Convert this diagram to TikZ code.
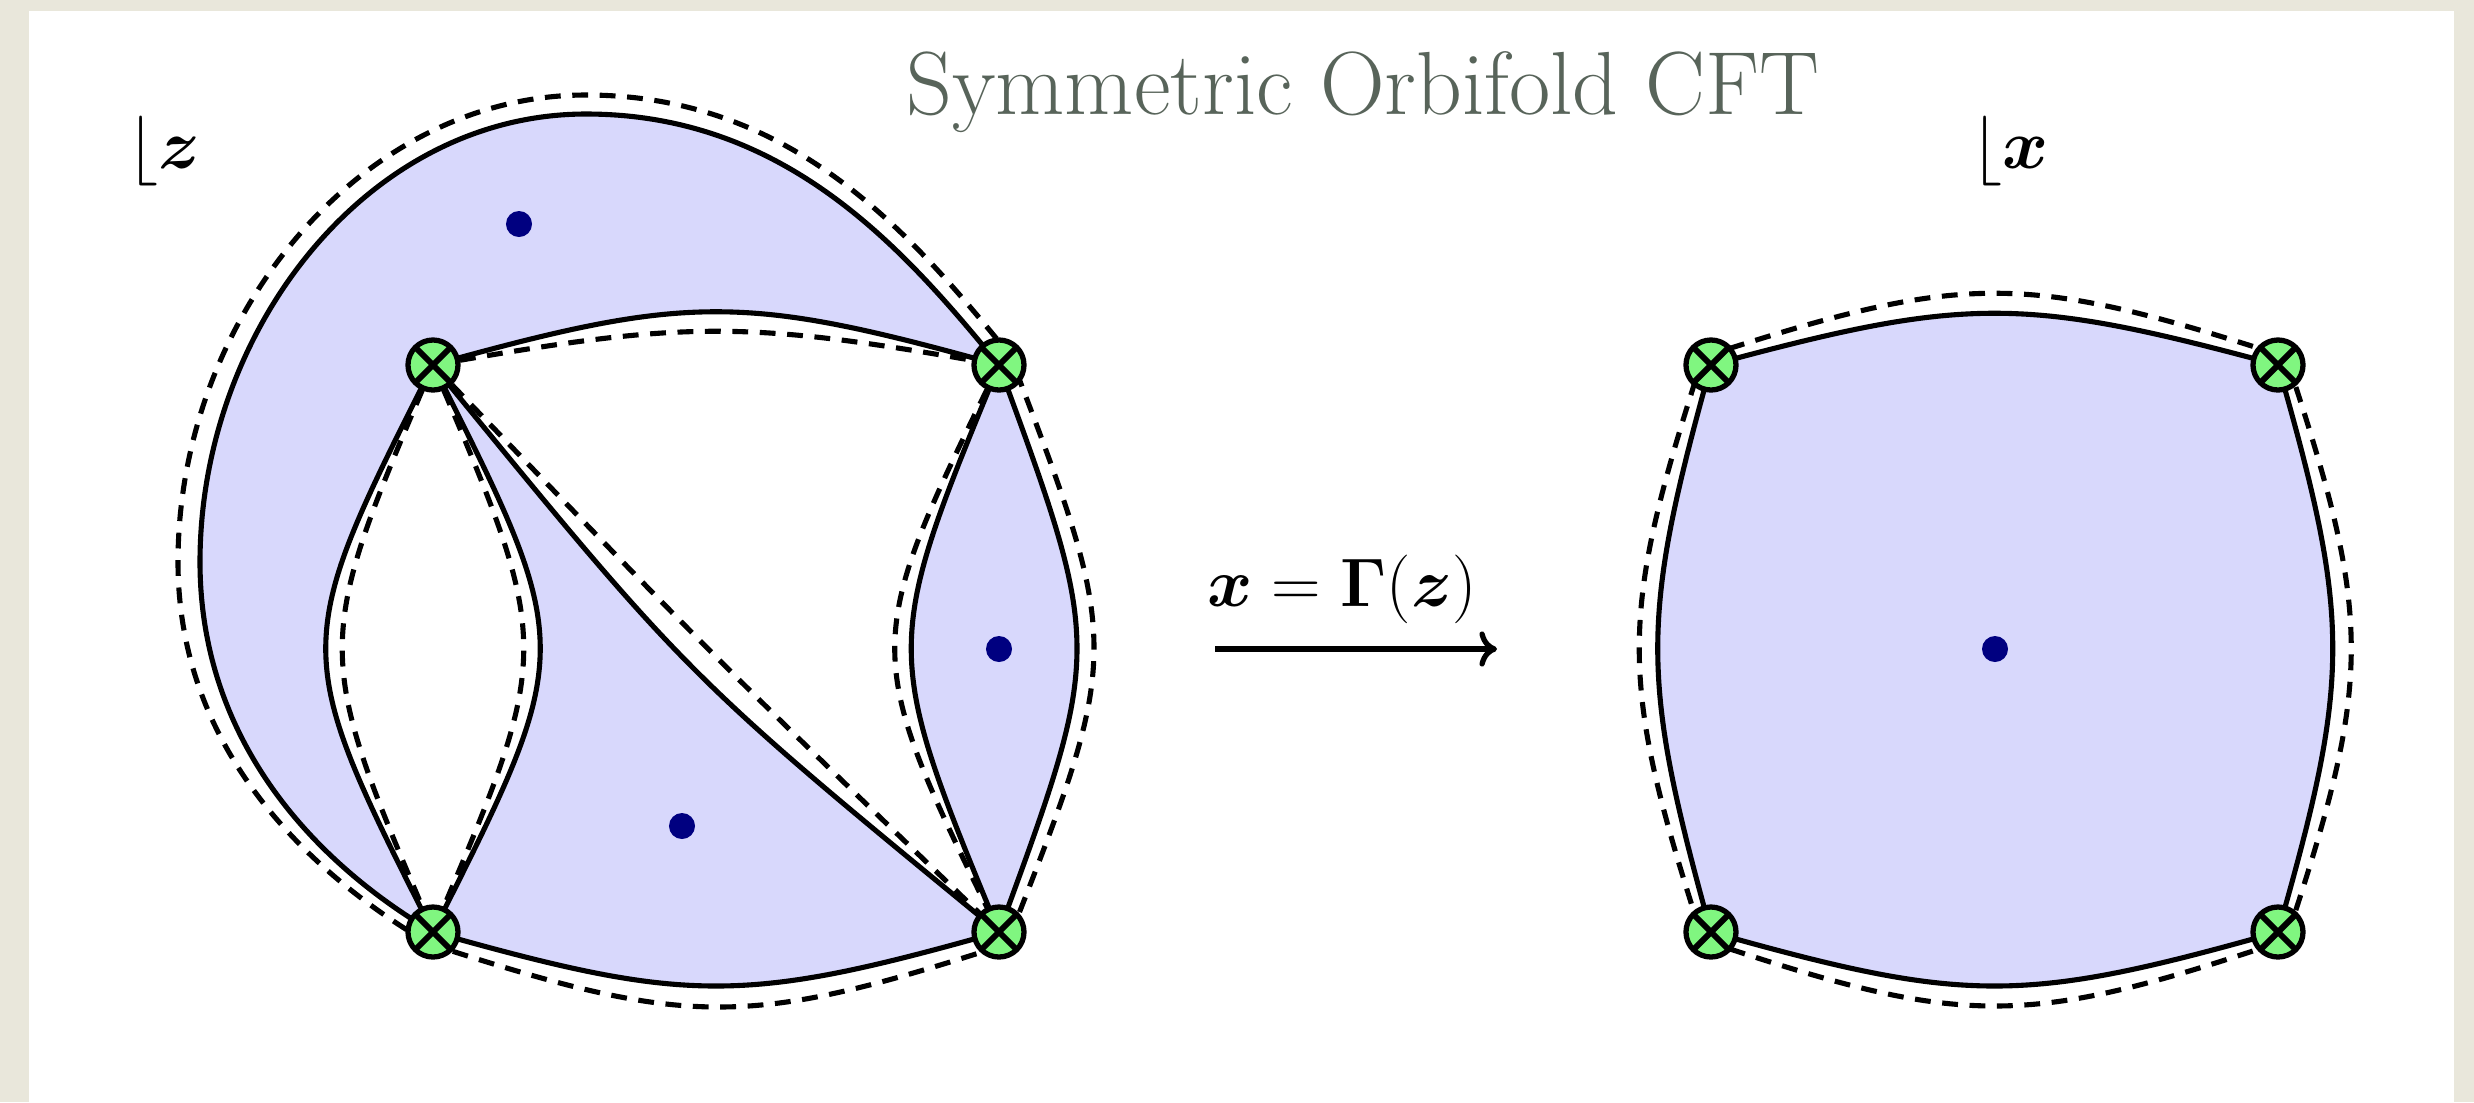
\documentclass[tikz,border=0pt]{standalone}
\usepackage{amsmath,bm}
\usepackage{graphicx}
\usepackage{fontspec}
\usetikzlibrary{arrows.meta}
\definecolor{bgbeige}{RGB}{233,231,219}
\definecolor{lav}{RGB}{216,216,252}
\definecolor{nodegreen}{RGB}{128,246,128}
\definecolor{dotnavy}{RGB}{0,0,128}
\definecolor{titlegray}{RGB}{88,100,90}
\begin{document}
\begin{tikzpicture}[x=0.01cm,y=-0.01cm,
  edge/.style={line width=1.45pt, line join=round},
  dashedge/.style={line width=1.45pt, dash pattern=on 4.5pt off 3.3pt},
  region/.style={fill=lav},
  branch/.style={circle, draw, line width=1.5pt, fill=nodegreen, minimum size=0.5cm, inner sep=0pt,
    path picture={\draw[line width=1.7pt]
      (path picture bounding box.south west) -- (path picture bounding box.north east)
      (path picture bounding box.north west) -- (path picture bounding box.south east);}},
  pdot/.style={circle, fill=dotnavy, minimum size=0.26cm, inner sep=0pt},
  lbl/.style={anchor=base west, inner sep=0pt, font=\fontsize{17}{20}\selectfont},
]
\useasboundingbox (0,0) rectangle (2474,1102);
\fill[bgbeige] (0,0) rectangle (2474,1102);
\fill[white] (29,11) rectangle (2454,1102);

% ---------- left diagram ----------
\coordinate (pA) at (433,365);
\coordinate (pB) at (999,365);
\coordinate (pC) at (433,932);
\coordinate (pD) at (999,932);
\coordinate (oL) at (200,562);
\coordinate (oT) at (586,114);
\coordinate (dC) at (430,944);
\coordinate (dB) at (1010,355);
\coordinate (dD) at (1007,944);
\coordinate (dL) at (178,562);
\coordinate (dT) at (586,95);

% fills
\fill[region] (pC) .. controls (304,856) and (200,732) .. (oL)
  .. controls (200,332) and (366,114) .. (oT)
  .. controls (786,114) and (904,249) .. (pB)
  .. controls (744,294) and (688,294) .. (pA)
  .. controls (290,648.5) .. (pC) -- cycle;
\fill[region] (pA) .. controls (576,648.5) .. (pC)
  .. controls (688,1004) and (744,1004) .. (pD)
  .. controls (688,677) .. (pA) -- cycle;
\fill[region] (pB) .. controls (882,648.5) .. (pD)
  .. controls (1103,648.5) .. (pB) -- cycle;

% dashed
\draw[dashedge] (dC) .. controls (292,863) and (178,737) .. (dL)
  .. controls (178,320) and (358,95) .. (dT)
  .. controls (796,95) and (915,239) .. (dB)
  .. controls (1122.5,649.5) .. (dD)
  .. controls (747,1028) and (690,1028) .. (dC);
\draw[dashedge] (pA) .. controls (688,320) and (744,320) .. (pB);
\draw[dashedge] (pA) .. controls (312,648.5) .. (pC);
\draw[dashedge] (pA) .. controls (554,648.5) .. (pC);
\draw[dashedge] (pA) .. controls (711,654.5) .. (pD);
\draw[dashedge] (pB) .. controls (860,648.5) .. (pD);

% solid
\draw[edge] (pC) .. controls (304,856) and (200,732) .. (oL)
  .. controls (200,332) and (366,114) .. (oT)
  .. controls (786,114) and (904,249) .. (pB);
\draw[edge] (pA) .. controls (688,294) and (744,294) .. (pB);
\draw[edge] (pA) .. controls (290,648.5) .. (pC);
\draw[edge] (pA) .. controls (576,648.5) .. (pC);
\draw[edge] (pA) .. controls (688,677) .. (pD);
\draw[edge] (pB) .. controls (882,648.5) .. (pD);
\draw[edge] (pB) .. controls (1103,648.5) .. (pD);
\draw[edge] (pC) .. controls (688,1004) and (744,1004) .. (pD);

\node[pdot] (dot1) at (519,224) {};
\node[pdot] (dot2) at (682,826) {};
\node[pdot] (dot3) at (999,649) {};

\node[branch] (A) at (pA) {};
\node[branch] (B) at (pB) {};
\node[branch] (C) at (pC) {};
\node[branch] (D) at (pD) {};

% ---------- right diagram ----------
\coordinate (pP) at (1711,365);
\coordinate (pQ) at (2278,365);
\coordinate (pR) at (1711,932);
\coordinate (pS) at (2278,932);
\coordinate (dP) at (1703,357);
\coordinate (dQ) at (2286,357);
\coordinate (dR) at (1703,940);
\coordinate (dS) at (2286,940);

\fill[region] (pP) .. controls (1966,296) and (2023,296) .. (pQ)
  .. controls (2351,620) and (2351,677) .. (pS)
  .. controls (2023,1004) and (1966,1004) .. (pR)
  .. controls (1640,677) and (1640,620) .. (pP) -- cycle;
\draw[dashedge] (dP) .. controls (1965,272) and (2024,272) .. (dQ)
  .. controls (2373,619) and (2373,678) .. (dS)
  .. controls (2024,1028) and (1965,1028) .. (dR)
  .. controls (1618,678) and (1618,619) .. (dP);
\draw[edge] (pP) .. controls (1966,296) and (2023,296) .. (pQ)
  .. controls (2351,620) and (2351,677) .. (pS)
  .. controls (2023,1004) and (1966,1004) .. (pR)
  .. controls (1640,677) and (1640,620) .. (pP) -- cycle;

\node[pdot] (dot4) at (1995,649) {};
\node[branch] (P) at (pP) {};
\node[branch] (Q) at (pQ) {};
\node[branch] (R) at (pR) {};
\node[branch] (S) at (pS) {};

% ---------- arrow and labels ----------
\coordinate (arrS) at (1215,649);
\coordinate (arrE) at (1497,649);
\draw[line width=1.5pt, -{Computer Modern Rightarrow[length=5pt,width=10pt]}] (arrS) -- (arrE);
\node[anchor=base, inner sep=0pt, font=\fontsize{17}{20}\selectfont] (map) at (1342,606) {\scalebox{1.13}{$\bm{x} = \bm{\Gamma}(\bm{z})$}};

\node[lbl] (zl) at (127,168) {\scalebox{1.15}{$\lfloor\bm{z}$}};
\node[lbl] (xl) at (1971,168) {\scalebox{1.15}{$\lfloor\bm{x}$}};

\node[anchor=base, inner sep=0pt, text=titlegray, font=\fontsize{25.5}{30}\selectfont] (title) at (1363,114) {Symmetric Orbifold CFT};
\end{tikzpicture}
\end{document}
